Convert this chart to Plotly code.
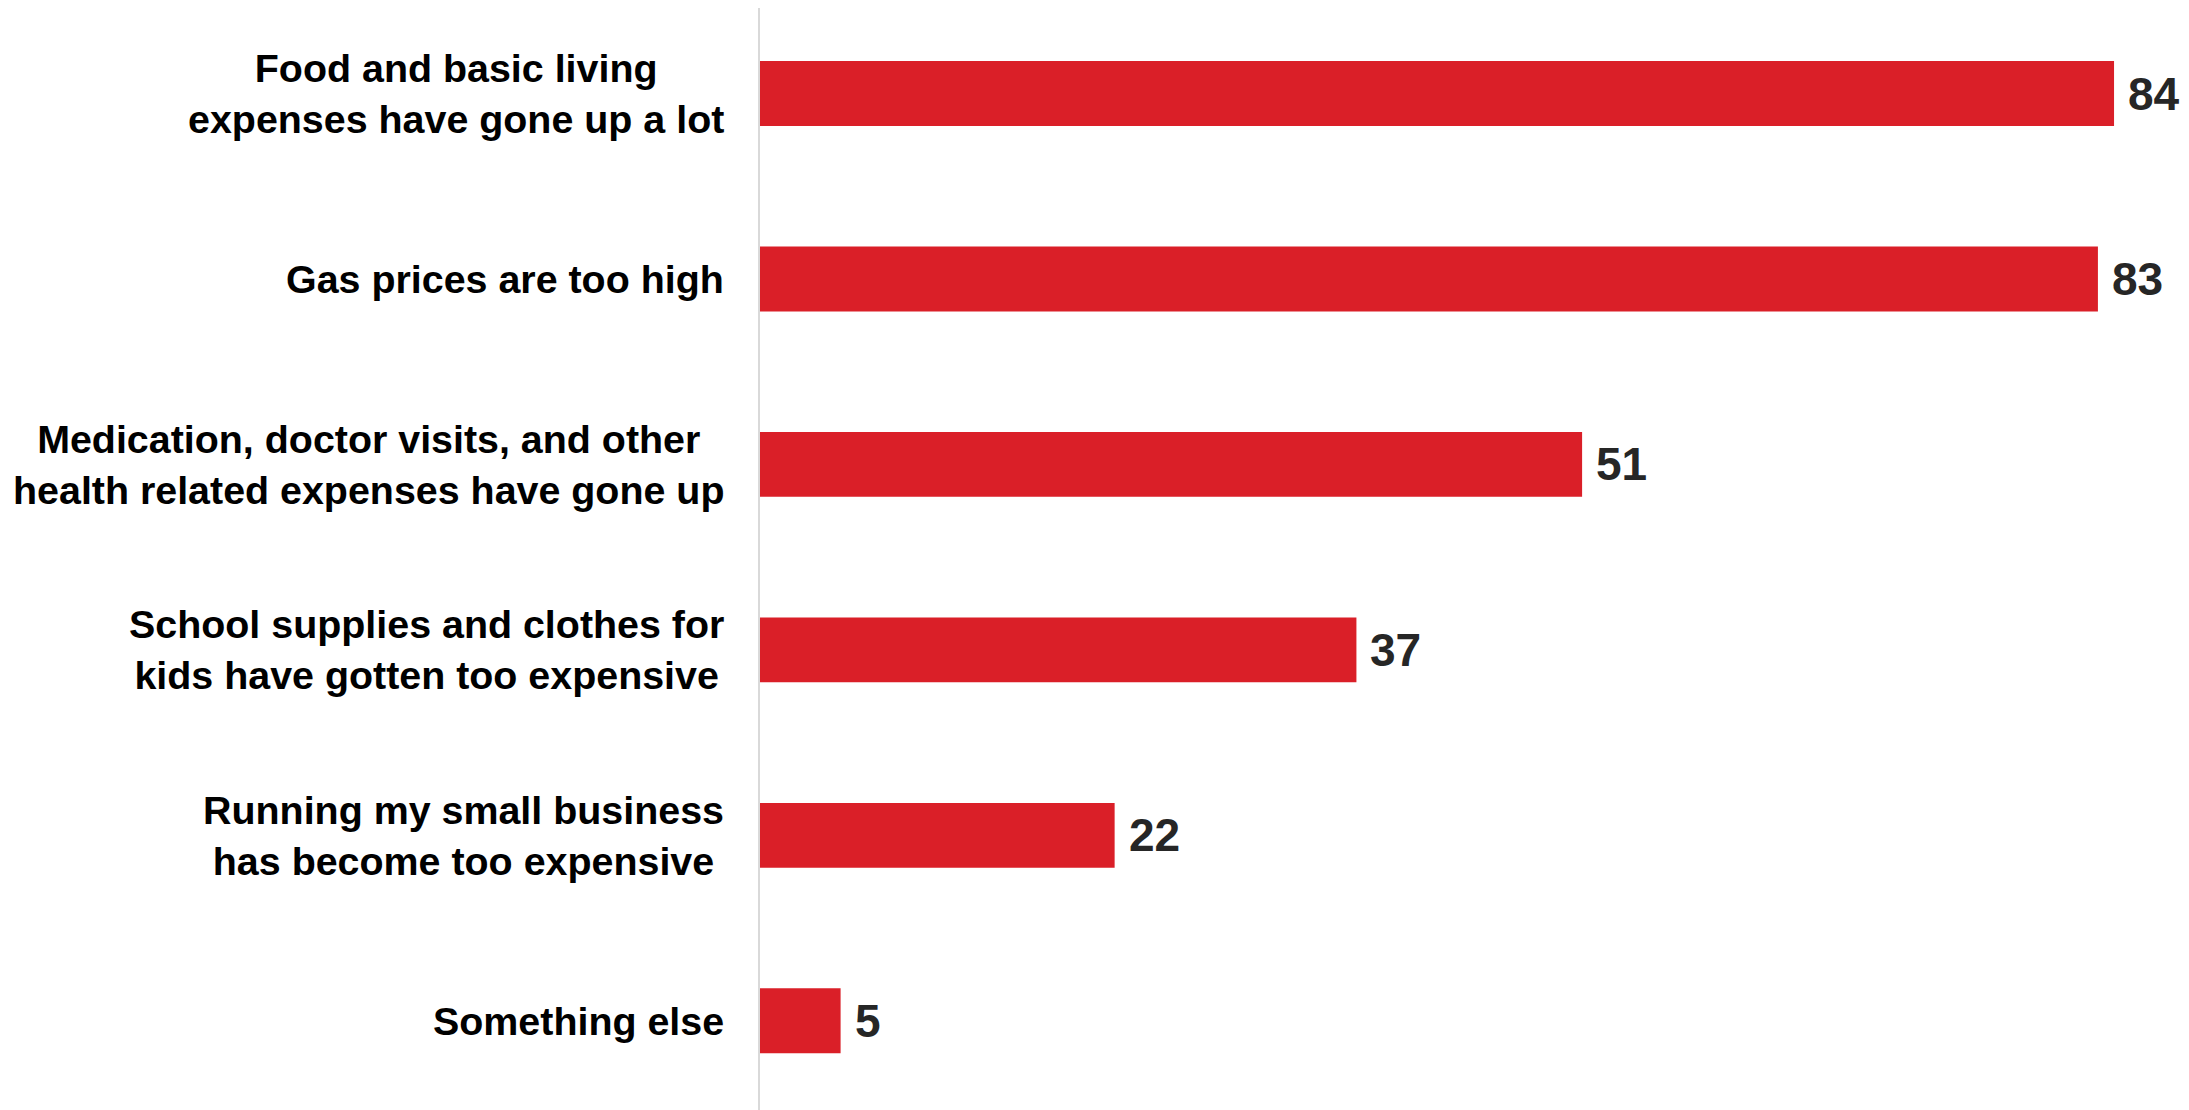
import plotly.graph_objects as go

categories = [
    "Food and basic living<br>expenses have gone up a lot",
    "Gas prices are too high",
    "Medication, doctor visits, and other<br>health related expenses have gone up",
    "School supplies and clothes for<br>kids have gotten too expensive",
    "Running my small business<br>has become too expensive",
    "Something else",
]
values = [84, 83, 51, 37, 22, 5]

BAR_COLOR = "#DA1F28"
FONT = "Liberation Sans, Arial, Helvetica, sans-serif"

fig = go.Figure()
fig.add_trace(go.Bar(
    x=values,
    y=list(range(len(values))),
    orientation="h",
    marker=dict(color=BAR_COLOR, line=dict(width=0)),
    width=0.35,
    hoverinfo="skip",
))

annotations = []
for i, (cat, v) in enumerate(zip(categories, values)):
    annotations.append(dict(
        xref="paper", x=0, yref="y", y=i,
        text=f"<b>{cat}</b>", showarrow=False,
        xanchor="right", yanchor="middle", align="center",
        xshift=-34,
        font=dict(family=FONT, size=39.4, color="#000000"),
    ))
    annotations.append(dict(
        xref="x", x=v, yref="y", y=i,
        text=f"<b>{v}</b>", showarrow=False,
        xanchor="left", yanchor="middle",
        xshift=12,
        font=dict(family=FONT, size=46, color="#262626"),
    ))

# the page body adds an 8px offset, so the figure is sized to fit the window exactly
fig.update_layout(
    width=2181, height=1102,
    margin=dict(l=752, r=0, t=0, b=0),
    paper_bgcolor="white", plot_bgcolor="white",
    showlegend=False,
    annotations=annotations,
    xaxis=dict(range=[0, 88.65], visible=False, fixedrange=True),
    yaxis=dict(range=[5.481, -0.461], showticklabels=False, ticks="",
               showgrid=False, zeroline=False,
               showline=True, linecolor="#D9D9D9", linewidth=2),
)

fig.write_html("out.html")
